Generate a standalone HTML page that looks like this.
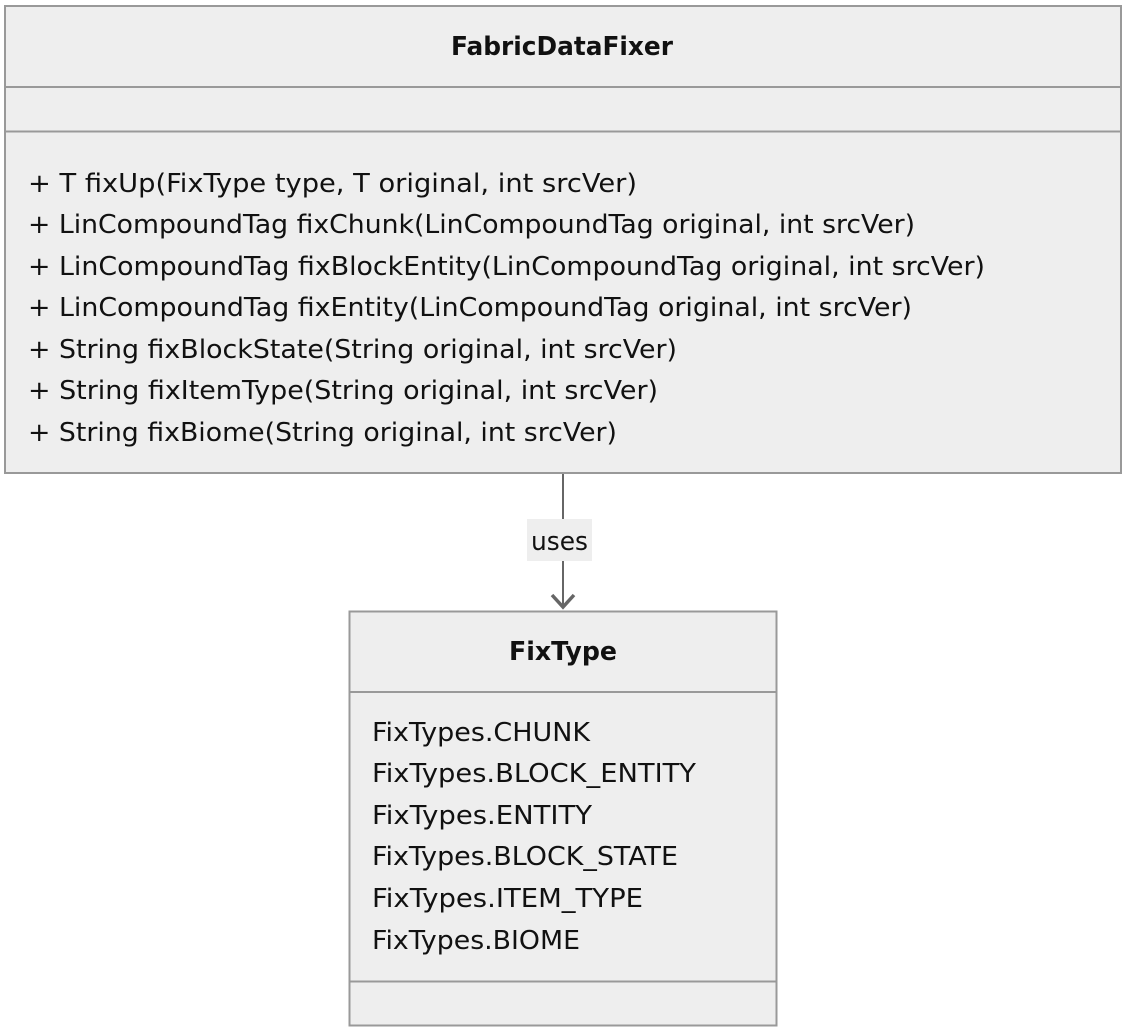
<!DOCTYPE html>
<html><head><meta charset="utf-8"><style>
html,body{margin:0;padding:0;background:#fff;width:1136px;height:1034px;overflow:hidden}
text{font-family:"DejaVu Sans","Liberation Sans",sans-serif;fill:#111}
</style></head><body>
<svg width="1136" height="1034" xmlns="http://www.w3.org/2000/svg">
<g stroke="#999" stroke-width="2" fill="#eeeeee">
<rect x="5" y="6" width="1116" height="467"/>
<line x1="5" y1="87" x2="1121" y2="87"/>
<line x1="5" y1="131.5" x2="1121" y2="131.5"/>
<rect x="349.5" y="611.5" width="427" height="414"/>
<line x1="349.5" y1="692" x2="776.5" y2="692"/>
<line x1="349.5" y1="981.5" x2="776.5" y2="981.5"/>
</g>
<line x1="563" y1="474" x2="563" y2="607" stroke="#666" stroke-width="2"/>
<polyline points="552,595 563,607 574,595" fill="none" stroke="#666" stroke-width="3.5"/>
<rect x="527" y="519" width="65" height="42" fill="#eeeeee"/>
<text x="531" y="550" font-size="26" textLength="57" lengthAdjust="spacingAndGlyphs">uses</text>
<text x="451" y="55" font-size="26" font-weight="bold" textLength="222" lengthAdjust="spacingAndGlyphs">FabricDataFixer</text>
<g font-size="26">
<text x="28" y="192" textLength="609" lengthAdjust="spacingAndGlyphs">+ T fixUp(FixType type, T original, int srcVer)</text>
<text x="28" y="233" textLength="887" lengthAdjust="spacingAndGlyphs">+ LinCompoundTag fixChunk(LinCompoundTag original, int srcVer)</text>
<text x="28" y="275" textLength="957" lengthAdjust="spacingAndGlyphs">+ LinCompoundTag fixBlockEntity(LinCompoundTag original, int srcVer)</text>
<text x="28" y="316" textLength="884" lengthAdjust="spacingAndGlyphs">+ LinCompoundTag fixEntity(LinCompoundTag original, int srcVer)</text>
<text x="28" y="358" textLength="649" lengthAdjust="spacingAndGlyphs">+ String fixBlockState(String original, int srcVer)</text>
<text x="28" y="399" textLength="630" lengthAdjust="spacingAndGlyphs">+ String fixItemType(String original, int srcVer)</text>
<text x="28" y="441" textLength="589" lengthAdjust="spacingAndGlyphs">+ String fixBiome(String original, int srcVer)</text>
</g>
<text x="509" y="660" font-size="26" font-weight="bold" textLength="108" lengthAdjust="spacingAndGlyphs">FixType</text>
<g font-size="26">
<text x="372" y="741" textLength="218" lengthAdjust="spacingAndGlyphs">FixTypes.CHUNK</text>
<text x="372" y="782" textLength="324" lengthAdjust="spacingAndGlyphs">FixTypes.BLOCK_ENTITY</text>
<text x="372" y="824" textLength="220" lengthAdjust="spacingAndGlyphs">FixTypes.ENTITY</text>
<text x="372" y="865" textLength="306" lengthAdjust="spacingAndGlyphs">FixTypes.BLOCK_STATE</text>
<text x="372" y="907" textLength="271" lengthAdjust="spacingAndGlyphs">FixTypes.ITEM_TYPE</text>
<text x="372" y="949" textLength="208" lengthAdjust="spacingAndGlyphs">FixTypes.BIOME</text>
</g>
</svg>
</body></html>
